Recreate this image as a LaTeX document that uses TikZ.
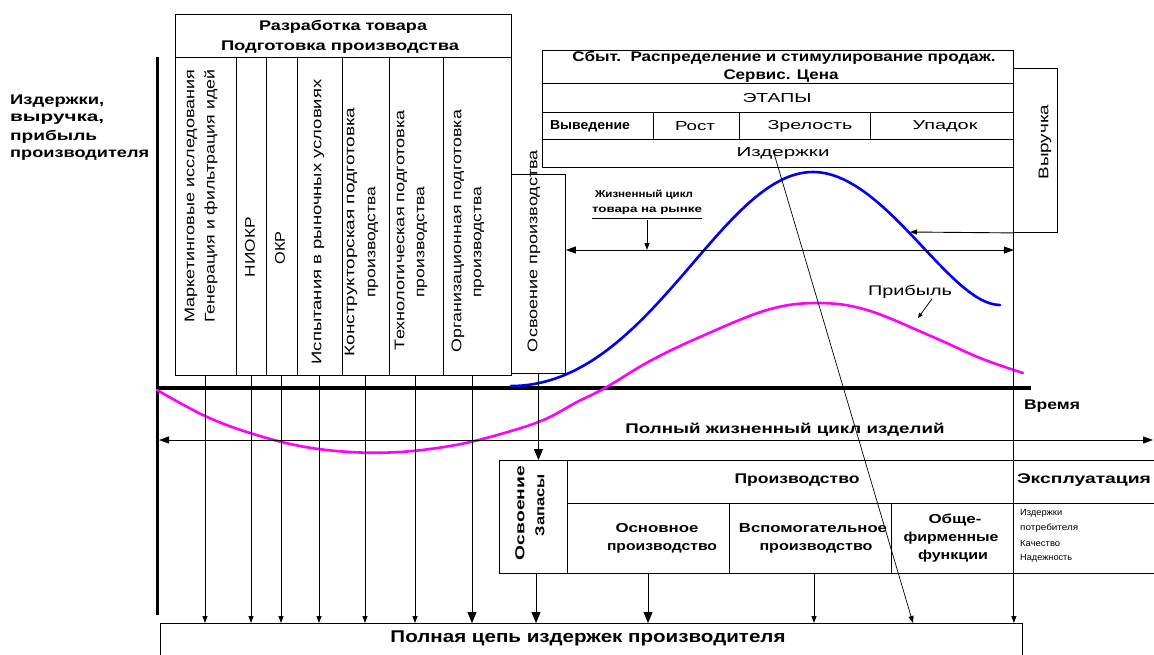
\documentclass[tikz,border=0pt]{standalone}
\usepackage{fontspec}
\setmainfont{Liberation Sans}
\usepackage{graphicx}
\usetikzlibrary{arrows.meta,calc}
\newcommand{\fw}[2]{\resizebox{#1pt}{\height}{#2}}
\definecolor{mag}{RGB}{255,0,255}
\definecolor{blu}{RGB}{0,0,240}
\begin{document}
\begin{tikzpicture}[x=1pt,y=-1pt,
  ln/.style={line width=0.9pt},
  bx/.style={draw, line width=0.9pt, inner sep=0pt, anchor=north west},
  tip/.style={-{Triangle[length=7pt,width=5pt]}},
  bigtip/.style={-{Triangle[length=11pt,width=9pt]}},
  dtip/.style={{Triangle[length=10pt,width=7pt]}-{Triangle[length=10pt,width=7pt]}},
  t13/.style={inner sep=0pt, font=\fontsize{13}{15}\selectfont},
  t14/.style={inner sep=0pt, font=\fontsize{14}{16}\selectfont},
  b14/.style={inner sep=0pt, font=\fontsize{14}{16}\selectfont\bfseries},
  b13/.style={inner sep=0pt, font=\fontsize{13}{15}\selectfont\bfseries},
  b10/.style={inner sep=0pt, font=\fontsize{10}{12}\selectfont\bfseries},
  t9/.style={inner sep=0pt, font=\fontsize{9}{11}\selectfont, anchor=west},
  rot/.style={rotate=90, inner sep=0pt, font=\fontsize{14}{16}\selectfont},
  rotb/.style={rotate=90, inner sep=0pt, font=\fontsize{13}{15}\selectfont\bfseries},
  curve/.style={line width=2.6pt, line join=round, line cap=round},
]
\useasboundingbox[fill=white] (0,0) rectangle (1154,654);

% ---------- boxes ----------
\node[bx, minimum width=336pt, minimum height=361pt] (dev) at (175,14) {};
\draw[ln] (dev.west |- 0,57) -- (dev.east |- 0,57);
\foreach \x in {236,266,297,342,389,443} \draw[ln] (\x,57) -- (\x,375);
\node[bx, minimum width=54pt, minimum height=199pt] (osv) at (511,174) {};

\node[bx, minimum width=471pt, minimum height=117pt] (sales) at (542,50) {};
\foreach \y in {83,112,139} \draw[ln] (542,\y) -- (1013,\y);
\foreach \x in {653,739,870} \draw[ln] (\x,112) -- (\x,139);
\node[bx, minimum width=44pt, minimum height=164pt] (rev) at (1013,68) {};

\node[bx, minimum width=662pt, minimum height=113pt] (tab) at (499,460) {};
\draw[ln] (567,503) -- (1161,503);
\draw[ln] (567,460) -- (567,573);
\draw[ln] (1013,460) -- (1013,573);
\foreach \x in {729,891} \draw[ln] (\x,503) -- (\x,573);

\node[bx, minimum width=862pt, minimum height=45pt] (cost) at (160,623) {};

% ---------- axes ----------
\draw[line width=3pt] (157,57) -- (157,615);
\draw[line width=4pt] (157,388) -- (1031,388);

% ---------- curves ----------
\draw[curve, mag] plot[smooth, tension=0.6] coordinates {
 (157,390) (205,416) (250,433) (300,446) (350,452) (400,452) (450,446)
 (490,437) (541,421) (577,402) (605,388) (650,361) (700,337) (767,310)
 (817,303) (867,310) (933,337) (980,358) (1023,373)};
\draw[curve, blu] (511,386) .. controls (650,386) and (720,172) .. (813,172)
  .. controls (885,172) and (950,305) .. (1000,305);

% ---------- arrows ----------
\foreach \x in {205,251,281,319,365,415}
  \draw[ln,tip] (dev.south -| \x,0) -- (cost.north -| \x,0);
\draw[ln,bigtip] (dev.south -| 472,0) -- (cost.north -| 472,0);
\draw[ln,bigtip] (osv.south) -- (tab.north -| osv.south);
\draw[ln,bigtip] (tab.south -| 536,0) -- (cost.north -| 536,0);
\draw[ln,bigtip] (tab.south -| 648,0) -- (cost.north -| 648,0);
\draw[ln,tip] (tab.south -| 814,0) -- (cost.north -| 814,0);
\draw[ln,tip] (sales.south east) -- (cost.north -| sales.south east);
\coordinate (d0) at (773,150);
\draw[line width=0.7pt,tip] (d0) -- (cost.north -| 913,0);
\draw[ln,dtip] (osv.east |- 0,250) -- (sales.east |- 0,250);
\draw[ln,dtip] (159,440) -- (1153,440);
\coordinate (revtip) at (910,232);
\draw[ln,tip] (rev.south west) -- (revtip);

% ---------- texts ----------
\node[b14, anchor=west] (y1) at (10,101) {\fw{94}{Издержки,}};
\node[b14, anchor=west] (y2) at (10,119) {\fw{94}{выручка,}};
\node[b14, anchor=west] (y3) at (10,137) {\fw{87}{прибыль}};
\node[b14, anchor=west] (y4) at (10,155) {\fw{139}{производителя}};

\node[b14] (h1) at (343,27) {\fw{168}{Разработка товара}};
\node[b14] (h2) at (340,47) {\fw{238}{Подготовка производства}};

\node[rot] (c1a) at (191,196) {\fw{253}{Маркетинговые исследования}};
\node[rot] (c1b) at (211,196) {\fw{253}{Генерация и фильтрация идей}};
\node[rot] (c2) at (250,247) {\fw{60}{НИОКР}};
\node[rot] (c3) at (280,248) {\fw{33}{ОКР}};
\node[rot] (c4) at (318,222) {\fw{285}{Испытания в рыночных условиях}};
\node[rot] (c5a) at (351,232) {\fw{249}{Конструкторская подготовка}};
\node[rot] (c5b) at (373,242) {\fw{111}{производства}};
\node[rot] (c6a) at (401,230) {\fw{240}{Технологическая подготовка}};
\node[rot] (c6b) at (422,242) {\fw{111}{производства}};
\node[rot] (c7a) at (458,231) {\fw{242}{Организационная подготовка}};
\node[rot] (c7b) at (479,242) {\fw{111}{производства}};
\node[rot] (c8) at (534,251) {\fw{202}{Освоение производства}};

\node[b14] (s1) at (784,58) {\fw{423}{Сбыт.\ \ Распределение и стимулирование продаж.}};
\node[b14] (s2) at (781,76) {\fw{115}{Сервис. Цена}};
\node[t13] (s3) at (777,98) {\fw{69}{ЭТАПЫ}};
\node[b13] (st1) at (590,126) {\fw{80}{Выведение}};
\node[t13] (st2) at (695,126) {\fw{40}{Рост}};
\node[t13] (st3) at (810,126) {\fw{85}{Зрелость}};
\node[t13] (st4) at (945,126) {\fw{65}{Упадок}};
\node[t13] (s5) at (783,153) {\fw{93}{Издержки}};
\node[rot] (rv) at (1045,142) {\fw{75}{Выручка}};

\node[b10] (lc1) at (644,195) {\fw{98}{Жизненный цикл}};
\node[b10] (lc2) at (647,211) {\fw{110}{товара на рынке}};
\draw[line width=0.8pt] (592,218) -- (702,218);
\draw[ln,tip] (lc2.south |- 0,220) -- (lc2.south |- 0,250);

\node[t14] (pr) at (910,292) {\fw{84}{Прибыль}};
\draw[line width=0.8pt,-{Triangle[length=5pt,width=4pt]}] (pr.south -| 932,0) -- (918,318);

\node[b14] (tm) at (1052,406) {\fw{56}{Время}};
\node[b14] (fl) at (785,430) {\fw{319}{Полный жизненный цикл изделий}};

\node[rotb] (o1) at (520,513) {\fw{94}{Освоение}};
\node[rotb] (o2) at (540,505) {\fw{62}{Запасы}};
\node[b14] (p0) at (797,480) {\fw{125}{Производство}};
\node[b14] (ex) at (1084,480) {\fw{134}{Эксплуатация}};
\node[b13] (p1a) at (657,528) {\fw{83}{Основное}};
\node[b13] (p1b) at (662,548) {\fw{110}{производство}};
\node[b13] (p2a) at (813,528) {\fw{148}{Вспомогательное}};
\node[b13] (p2b) at (816,548) {\fw{113}{производство}};
\node[b13] (p3a) at (955,520) {\fw{53}{Обще-}};
\node[b13] (p3b) at (951,538) {\fw{95}{фирменные}};
\node[b13] (p3c) at (953,556) {\fw{70}{функции}};
\node[t9] (e1) at (1020,513) {\fw{42}{Издержки}};
\node[t9] (e2) at (1020,528) {\fw{58}{потребителя}};
\node[t9] (e3) at (1020,543) {\fw{40}{Качество}};
\node[t9] (e4) at (1020,558) {\fw{52}{Надежность}};

\node[inner sep=0pt, font=\fontsize{17}{19}\selectfont\bfseries] (ct) at (588,638) {\fw{395}{Полная цепь издержек производителя}};
\end{tikzpicture}
\end{document}
